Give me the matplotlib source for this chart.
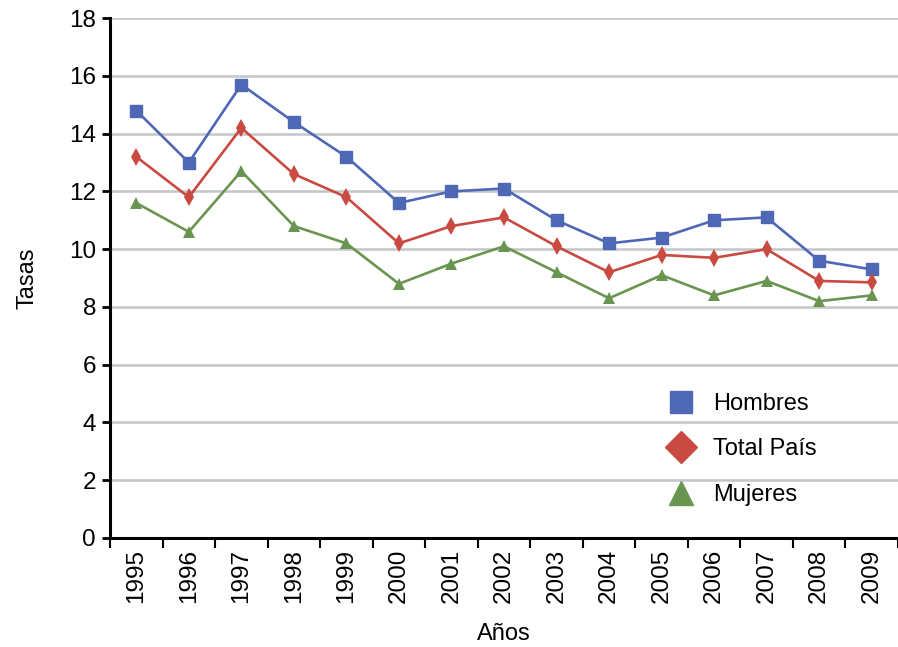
import matplotlib
matplotlib.use('Agg')
import matplotlib.pyplot as plt
from matplotlib.lines import Line2D

plt.rcParams['font.family'] = ['Liberation Sans', 'DejaVu Sans']

years = ['1995', '1996', '1997', '1998', '1999', '2000', '2001', '2002',
         '2003', '2004', '2005', '2006', '2007', '2008', '2009']
hombres = [14.8, 13.0, 15.7, 14.4, 13.2, 11.6, 12.0, 12.1, 11.0, 10.2, 10.4, 11.0, 11.1, 9.6, 9.3]
total = [13.2, 11.8, 14.2, 12.6, 11.8, 10.2, 10.8, 11.1, 10.1, 9.2, 9.8, 9.7, 10.0, 8.9, 8.85]
mujeres = [11.6, 10.6, 12.7, 10.8, 10.2, 8.8, 9.5, 10.1, 9.2, 8.3, 9.1, 8.4, 8.9, 8.2, 8.4]

c_h = '#4E68B5'
c_t = '#C94A40'
c_m = '#6A9550'

fig = plt.figure(figsize=(8.98, 6.47), dpi=100)
ax = fig.add_axes([0.1225, 0.1685, 0.8775, 0.8035])

x = range(len(years))
ax.plot(x, hombres, color=c_h, lw=1.9, marker='s', ms=8, zorder=3)
ax.plot(x, total, color=c_t, lw=1.9, marker='d', ms=9, mew=0, zorder=3)
ax.plot(x, mujeres, color=c_m, lw=1.9, marker='^', ms=8, mew=0, zorder=3)

ax.set_ylim(0, 18)
ax.set_yticks(range(0, 19, 2))
ax.set_xlim(-0.5, 14.25)
ax.set_xticks(list(x))
ax.set_xticklabels(years, rotation=90)
ax.set_xticks([i - 0.5 for i in range(len(years) + 1)], minor=True)
ax.tick_params(axis='x', which='major', length=0, pad=8, labelsize=17.5)
ax.tick_params(axis='x', which='minor', length=7, width=1.5, direction='out')
ax.tick_params(axis='y', length=6, width=2, direction='out', labelsize=17.5, pad=4)

ax.yaxis.grid(True, color='#C3C6CA', lw=1.8)
ax.set_axisbelow(True)
for s in ['top', 'right']:
    ax.spines[s].set_visible(False)
ax.spines['left'].set_linewidth(2.2)
ax.spines['bottom'].set_linewidth(2.2)

ax.set_ylabel('Tasas', fontsize=17, labelpad=22)
ax.set_xlabel('Años', fontsize=17, labelpad=14)

handles = [
    Line2D([], [], ls='none', marker='s', color=c_h, ms=16),
    Line2D([], [], ls='none', marker='D', color=c_t, ms=16),
    Line2D([], [], ls='none', marker='^', color=c_m, ms=17),
]
ax.legend(handles, ['Hombres', 'Total País', 'Mujeres'], loc='upper left',
          bbox_to_anchor=(0.675, 0.32), frameon=False, fontsize=17,
          handletextpad=0.6, labelspacing=1.0, handlelength=1.5)

fig.savefig('out.png', dpi=100)
